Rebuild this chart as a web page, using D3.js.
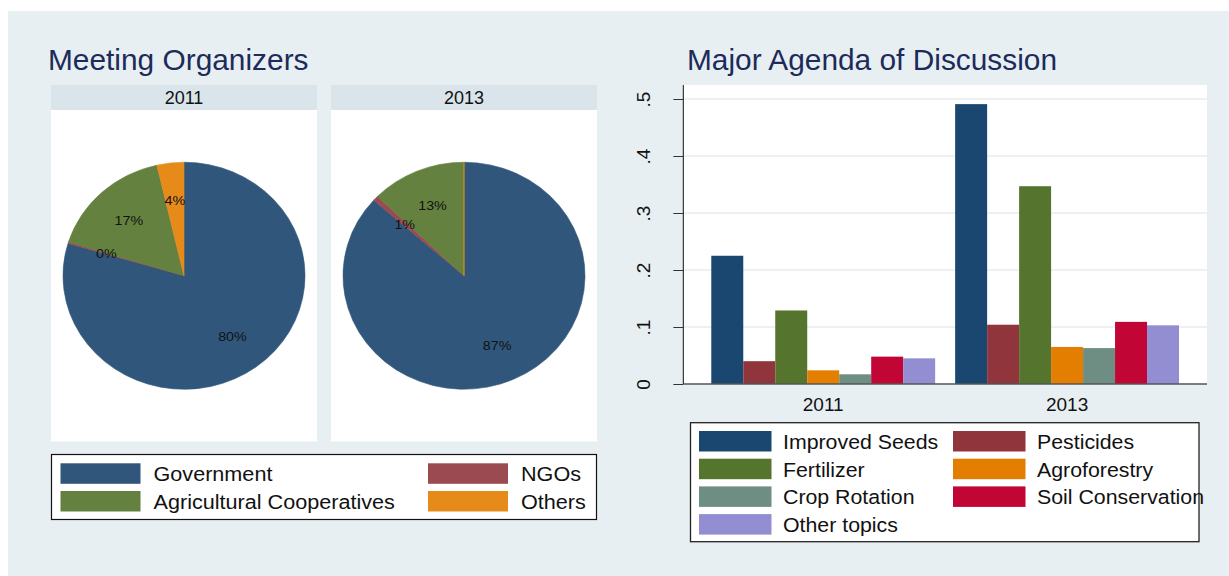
<!DOCTYPE html>
<html>
<head>
<meta charset="utf-8">
<script src="https://cdn.jsdelivr.net/npm/d3@7"></script>
<style>
  body { margin: 0; background: #ffffff; }
  svg { display: block; }
  text { font-family: "Liberation Sans", Arial, sans-serif; }
</style>
</head>
<body>
<svg id="chart" width="1229" height="576"></svg>
<script>
// ---- Meeting organizers (percent of meetings) ----
const organizers = ["Government", "NGOs", "Agricultural Cooperatives", "Others"];
const pieYears = ["2011", "2013"];
const organizerShare2011 = [79.6, 0.2, 16.6, 3.6];
const organizerShare2013 = [86.6, 0.7, 12.7, 0];
const organizerColors = ["#30577b", "#9c4a51", "#65813f", "#e68b1a"];

// ---- Major agenda of discussion (share of meetings) ----
const topics = ["Improved Seeds", "Pesticides", "Fertilizer", "Agroforestry",
                "Crop Rotation", "Soil Conservation", "Other topics"];
const barYears = ["2011", "2013"];
const topicShare2011 = [0.225, 0.040, 0.129, 0.024, 0.017, 0.048, 0.045];
const topicShare2013 = [0.491, 0.104, 0.347, 0.065, 0.063, 0.109, 0.103];
const topicColors = ["#1a476f", "#90353b", "#55752f", "#e37e00",
                     "#6e8e84", "#c10534", "#938dd2"];
const yTicks = [0, 0.1, 0.2, 0.3, 0.4, 0.5];

const svg = d3.select("#chart");
const titleColor = "#1c2b5a";

// text that is drawn slightly wide, anchored at (x, y)
function wideText(sel, x, y, sx) {
  return sel.append("text").attr("transform", `translate(${x},${y}) scale(${sx},1)`);
}

// graph region background
svg.append("rect").attr("x", 8).attr("y", 11).attr("width", 1221).attr("height", 565)
  .attr("fill", "#e8eff2");

// ================= Left: pies =================
wideText(svg, 48, 70, 1.03).attr("font-size", 29).attr("fill", titleColor)
  .text("Meeting Organizers");

const panelX = d3.scaleBand().domain(pieYears).range([51, 597]).paddingInner(14 / 280);
const panelTop = 85, headerH = 25, panelBottom = 441.5;
const pieShares = { "2011": organizerShare2011, "2013": organizerShare2013 };
const ry = 113.5, rx = 121;
const pie = d3.pie().sort(null).value(d => d);
const arc = d3.arc().innerRadius(0).outerRadius(ry);
const pct = d3.format(".0f");

pieYears.forEach(yr => {
  const x0 = panelX(yr), w = panelX.bandwidth();
  const g = svg.append("g");
  g.append("rect").attr("x", x0).attr("y", panelTop + headerH).attr("width", w)
    .attr("height", panelBottom - panelTop - headerH).attr("fill", "#ffffff");
  g.append("rect").attr("x", x0).attr("y", panelTop).attr("width", w)
    .attr("height", headerH).attr("fill", "#d9e5eb");
  g.append("text").attr("x", x0 + w / 2).attr("y", panelTop + 18.5)
    .attr("text-anchor", "middle").attr("font-size", 18).attr("fill", "#111").text(yr);

  const cx = x0 + w / 2, cy = (panelTop + headerH + panelBottom) / 2;
  const arcs = pie(pieShares[yr]);
  const pg = g.append("g").attr("transform", `translate(${cx},${cy}) scale(${rx / ry},1)`);
  pg.selectAll("path").data(arcs).join("path")
    .attr("d", arc)
    .attr("fill", (d, i) => organizerColors[i])
    .attr("stroke", (d, i) => organizerColors[i]).attr("stroke-width", 0.6);

  g.selectAll("text.lbl").data(arcs.filter(d => d.data > 0)).join("text")
    .attr("class", "lbl")
    .attr("transform", d => {
      const a = (d.startAngle + d.endAngle) / 2;
      return `translate(${cx + Math.sin(a) * rx * 0.67},${cy - Math.cos(a) * ry * 0.67}) scale(1.06,1)`;
    })
    .attr("dy", "0.35em").attr("text-anchor", "middle")
    .attr("font-size", 13.5).attr("fill", "#111")
    .text(d => pct(d.data) + "%");
});

// pie legend
const lg1 = svg.append("g");
lg1.append("rect").attr("x", 51.5).attr("y", 454.5).attr("width", 545).attr("height", 65)
  .attr("fill", "#ffffff").attr("stroke", "#111").attr("stroke-width", 1.2);
const col1X = [60.5, 428], rowStep = 27.7;
organizers.forEach((name, k) => {
  const c = k % 2, r = Math.floor(k / 2);
  const y0 = 463.3 + r * rowStep;
  lg1.append("rect").attr("x", col1X[c]).attr("y", y0).attr("width", 80).attr("height", 20.5)
    .attr("fill", organizerColors[k]);
  wideText(lg1, col1X[c] + 93, y0 + 17.8, 1.03)
    .attr("font-size", 21).attr("fill", "#111").text(name);
});

// ================= Right: grouped bars =================
wideText(svg, 687, 70, 1.03).attr("font-size", 29).attr("fill", titleColor)
  .text("Major Agenda of Discussion");

const plotL = 683.3, plotR = 1207, plotT = 85, plotB = 384;
const y = d3.scaleLinear().domain([0, 0.5]).range([plotB, 99]);
const x0s = d3.scaleBand().domain(barYears).range([plotL, plotR])
  .paddingInner(20 / 244).paddingOuter(28 / 244);
const x1s = d3.scaleBand().domain(topics).range([0, x0s.bandwidth()]).padding(0);
const topicShares = { "2011": topicShare2011, "2013": topicShare2013 };

svg.append("rect").attr("x", plotL).attr("y", plotT).attr("width", plotR - plotL)
  .attr("height", plotB - plotT).attr("fill", "#ffffff");

// horizontal grid
svg.append("g").selectAll("line").data(yTicks.filter(t => t > 0)).join("line")
  .attr("x1", plotL).attr("x2", plotR)
  .attr("y1", d => y(d)).attr("y2", d => y(d))
  .attr("stroke", "#e6eef1").attr("stroke-width", 1.5);

// bars
barYears.forEach(yr => {
  svg.append("g").attr("transform", `translate(${x0s(yr)},0)`)
    .selectAll("rect").data(topicShares[yr]).join("rect")
    .attr("x", (d, i) => x1s(topics[i]))
    .attr("width", x1s.bandwidth())
    .attr("y", d => y(d))
    .attr("height", d => y(0) - y(d))
    .attr("fill", (d, i) => topicColors[i]);
});

// x baseline
svg.append("line").attr("x1", plotL).attr("x2", plotR).attr("y1", plotB).attr("y2", plotB)
  .attr("stroke", "#555").attr("stroke-width", 1.5);

// y axis
const fmtTick = d => d === 0 ? "0" : d3.format(".1f")(d).replace(/^0/, "");
const yAxis = svg.append("g").attr("transform", `translate(${plotL},0)`)
  .call(d3.axisLeft(y).tickValues(yTicks).tickFormat(fmtTick).tickSize(10).tickSizeOuter(0));
yAxis.select(".domain").attr("stroke", "#111").attr("d", `M0,${plotT}V${plotB}`);
yAxis.selectAll(".tick line").attr("stroke", "#333");
yAxis.selectAll(".tick text")
  .attr("x", null).attr("dy", null).attr("y", 0)
  .attr("transform", "translate(-33,0) rotate(-90)")
  .attr("text-anchor", "middle")
  .attr("font-size", 19).attr("fill", "#111")
  .style("font-family", "'Liberation Sans', Arial, sans-serif");

// x category labels
svg.append("g").selectAll("text").data(barYears).join("text")
  .attr("x", d => x0s(d) + x0s.bandwidth() / 2).attr("y", 411)
  .attr("text-anchor", "middle").attr("font-size", 19).attr("fill", "#111").text(d => d);

// bar legend
const lg2 = svg.append("g");
lg2.append("rect").attr("x", 690.5).attr("y", 422.7).attr("width", 508.5).attr("height", 119)
  .attr("fill", "#ffffff").attr("stroke", "#222").attr("stroke-width", 1.3);
const col2X = [699, 953];
topics.forEach((t, k) => {
  const c = k % 2, r = Math.floor(k / 2);
  const y0 = 431 + r * rowStep;
  lg2.append("rect").attr("x", col2X[c]).attr("y", y0).attr("width", 72.5).attr("height", 20.5)
    .attr("fill", topicColors[k]);
  wideText(lg2, col2X[c] + 84, y0 + 18, 1.04)
    .attr("font-size", 20.5).attr("fill", "#111").text(t);
});
</script>
</body>
</html>
